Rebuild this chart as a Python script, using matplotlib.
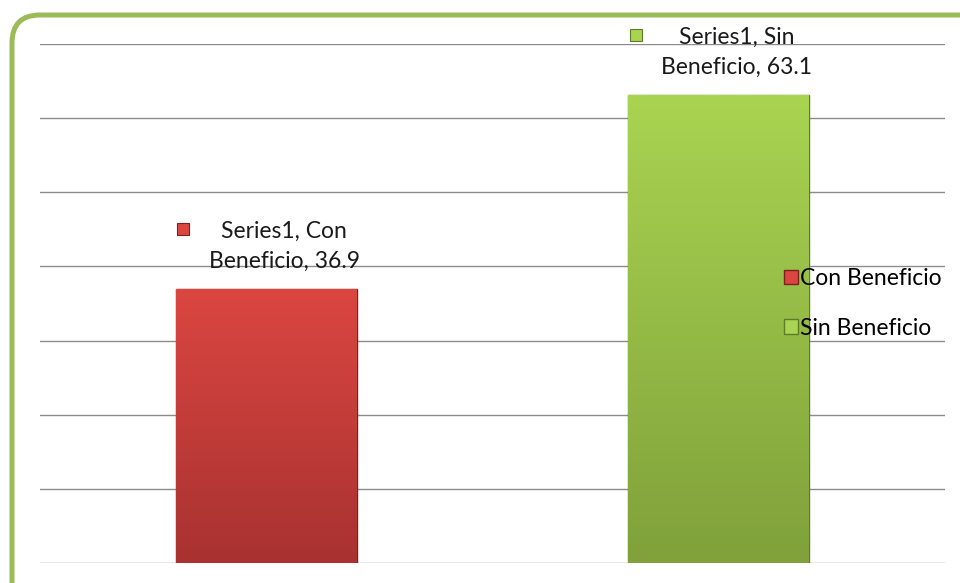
import matplotlib
matplotlib.use('Agg')
import matplotlib.pyplot as plt
from matplotlib.patches import FancyBboxPatch, Patch
from matplotlib.colors import LinearSegmentedColormap
from matplotlib.transforms import ScaledTranslation
import numpy as np

# data
categories = ['Con Beneficio', 'Sin Beneficio']
series_name = 'Series1'
values = [36.9, 63.1]
top_colors = ['#DB4641', '#A9D451']
bottom_colors = ['#A83231', '#80A13B']
edge_colors = ['#7A2222', '#5E7A2A']

plt.rcParams['font.family'] = ['Lato', 'DejaVu Sans']

fig = plt.figure(figsize=(9.6, 5.83), dpi=100)
ax = fig.add_axes([40 / 960, 20 / 583, 905 / 960, 519 / 583])

# rounded frame around the chart
frame = FancyBboxPatch((0.12, -1.0), 11.0, 6.68,
                       boxstyle='round,pad=0,rounding_size=0.28',
                       transform=fig.dpi_scale_trans, fill=False,
                       edgecolor='#9BBB59', linewidth=3.6, zorder=0)
fig.patches.append(frame)

x = np.arange(len(categories))
width = 0.4
bars = ax.bar(x, values, width, color=bottom_colors, edgecolor=edge_colors,
              linewidth=1.0, zorder=3)

# vertical gradient on each bar
grad = np.linspace(0, 1, 256).reshape(-1, 1)
for i, b in enumerate(bars):
    cmap = LinearSegmentedColormap.from_list('g%d' % i, [bottom_colors[i], top_colors[i]])
    im = ax.imshow(grad, cmap=cmap, aspect='auto', origin='lower',
                   extent=(b.get_x(), b.get_x() + b.get_width(), 0, b.get_height()),
                   zorder=3.5)
    im.set_clip_path(b)

ax.set_xlim(-0.5, 1.5)
ax.set_ylim(0, 70)
ax.set_yticks(np.arange(0, 71, 10))
ax.set_xticks([])
ax.yaxis.grid(True, color='#8C8C8C', linewidth=1.0, zorder=0)
ax.set_axisbelow(True)
ax.tick_params(axis='y', length=0, labelleft=False)
for s in ax.spines.values():
    s.set_visible(False)

# data labels
for i, v in enumerate(values):
    first, second = categories[i].split()
    ax.annotate('%s, %s\n%s, %.1f' % (series_name, first, second, v),
                xy=(x[i], v), xytext=(13, 31), textcoords='offset points',
                ha='center', va='center', fontsize=16.5, color='#1A1A1A',
                linespacing=1.5, zorder=5)
    ax.plot([x[i]], [v], marker='s', markersize=9, color=top_colors[i],
            markeredgecolor=edge_colors[i], markeredgewidth=0.8,
            transform=ax.transData + ScaledTranslation(-83 / 100, 60 / 100, fig.dpi_scale_trans),
            zorder=5, clip_on=False)

# legend
handles = [Patch(facecolor=top_colors[i], edgecolor=edge_colors[i]) for i in range(len(categories))]
ax.legend(handles, categories, loc='center left', bbox_to_anchor=(0.812, 0.5),
          frameon=False, fontsize=16.5, handlelength=0.6, handleheight=0.6,
          handletextpad=0.1, labelspacing=1.25, borderaxespad=0)

fig.savefig('out.png', dpi=100)
